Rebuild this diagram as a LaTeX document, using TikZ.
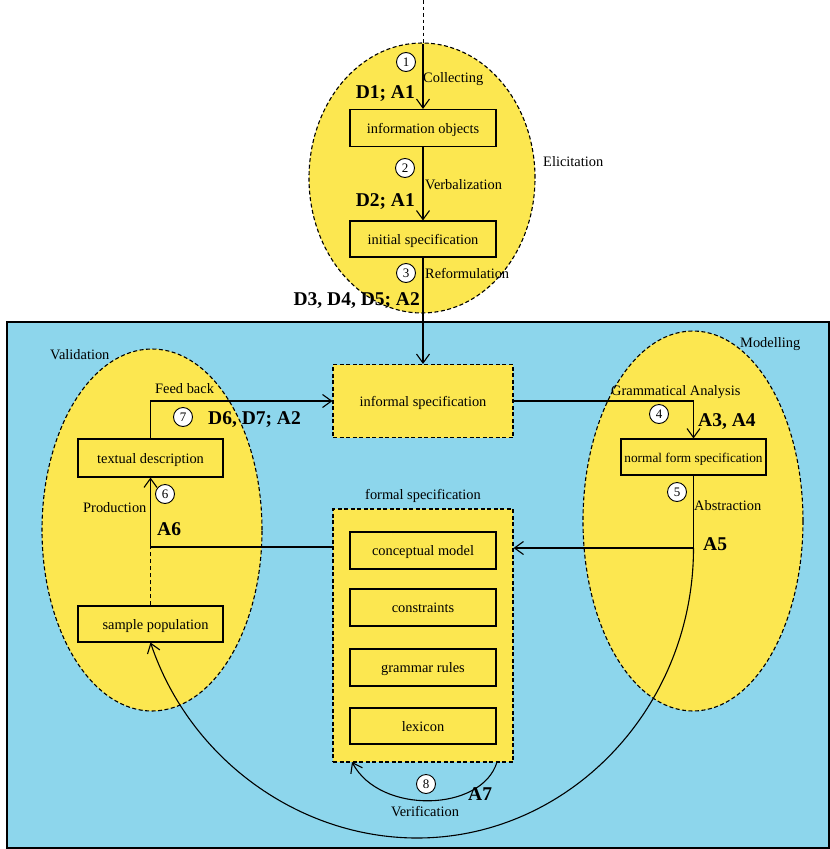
\documentclass[tikz,border=0pt]{standalone}
\usepackage{fontspec}
\setmainfont{Liberation Serif}
\usetikzlibrary{shapes.geometric,arrows.meta,calc}
\definecolor{bgblue}{RGB}{141,214,236}
\definecolor{ylw}{RGB}{252,231,80}
\begin{document}
\begin{tikzpicture}[x=1pt,y=-1pt,
  every node/.style={inner sep=0pt},
  txt/.style={font=\fontsize{14.4}{16}\selectfont,text height=10pt,text depth=0pt},
  bld/.style={font=\fontsize{19.5}{22}\selectfont\bfseries,text height=14pt,text depth=0pt},
  ell/.style={ellipse,draw,fill=ylw,dash pattern=on 4pt off 2.5pt,line width=1.1pt},
  box/.style={rectangle,draw,fill=ylw,line width=1.1pt,font=\fontsize{14.4}{16}\selectfont,text height=10pt,text depth=0pt},
  dbox/.style={rectangle,draw,fill=ylw,dash pattern=on 4pt off 2.5pt,line width=1.1pt,font=\fontsize{14.4}{16}\selectfont},
  num/.style={circle,draw,fill=white,minimum size=19pt,line width=0.9pt,font=\fontsize{13}{14}\selectfont},
  ln/.style={line width=1.1pt},
  arr/.style={line width=1.1pt,-{Straight Barb[length=9pt,width=13pt]}}]
\useasboundingbox (0,0) rectangle (830,849);
% background
\node[rectangle,draw,fill=bgblue,line width=1.5pt,minimum width=822pt,minimum height=526pt] (bg) at (418,585) {};
% ellipses
\node[ell,minimum width=226pt,minimum height=270pt] (elic) at (422,178) {};
\node[ell,minimum width=220pt,minimum height=362pt] (valid) at (152,530) {};
\node[ell,minimum width=220pt,minimum height=380pt] (model) at (693,521) {};
% boxes
\node[box,minimum width=146pt,minimum height=37pt] (io) at (423,128) {information objects};
\node[box,minimum width=146pt,minimum height=36pt] (is) at (423,239) {initial specification};
\node[dbox,minimum width=180pt,minimum height=73pt,text height=10pt,text depth=0pt] (inf) at (423,401) {informal specification};
\node[box,minimum width=145pt,minimum height=38pt] (td) at (150.5,458) {textual description};
\node[box,minimum width=145pt,minimum height=36pt] (sp) at (150.5,624) {\hspace*{10pt}sample population};
\node[box,minimum width=145pt,minimum height=36pt,font=\fontsize{13.3}{15}\selectfont] (nf) at (693.5,457) {normal form specification};
\node[dbox,minimum width=180pt,minimum height=253pt] (fs) at (423,635.5) {};
\node[box,minimum width=146pt,minimum height=37pt] (cm) at (423,550.5) {conceptual model};
\node[box,minimum width=146pt,minimum height=37pt] (co) at (423,607.5) {constraints};
\node[box,minimum width=146pt,minimum height=37pt] (gr) at (423,667.5) {grammar rules};
\node[box,minimum width=146pt,minimum height=36pt] (lx) at (423,726) {lexicon};
% coordinates
\coordinate (top) at (423,0);
\coordinate (et) at (423,44);
\coordinate (c6) at (150.5,547);
\coordinate (c5) at (693.5,548);
\coordinate (bot) at (417,838);
\coordinate (v1) at (497,762);
\coordinate (v2) at (352,762);
% connectors
\draw[line width=1pt,dash pattern=on 3.5pt off 3pt] (top) -- (et);
\draw[arr] (et) -- (io.north);
\draw[arr] (io.south) -- (is.north);
\draw[arr] (is.south) -- (inf.north);
\draw[arr] (td.north) |- (inf.west);
\draw[arr] (inf.east) -| (nf.north);
\draw[ln] (nf.south) -- (c5);
\draw[arr] (c5) -- (c5 -| fs.east);
\draw[ln] (c6 -| fs.west) -- (c6);
\draw[line width=1.2pt,dash pattern=on 4pt off 3pt] (sp.north) -- (c6);
\draw[arr] (c6) -- (td.south);
\draw[arr] (c5) .. controls (693.5,708) and (569,838) .. (bot) .. controls (300,838) and (190,760) .. (sp.south);
\draw[arr] (v1) .. controls (482,812) and (380,815) .. (v2);
% labels
\node[num] (n1) at (406,62) {1};
\node[txt,anchor=west] (l1) at (423,77) {Collecting};
\node[bld,anchor=east] (b1) at (415,91) {D1; A1};
\node[num] (n2) at (405,168) {2};
\node[txt,anchor=west] (l2) at (425,184) {Verbalization};
\node[bld,anchor=east] (b2) at (415,199) {D2; A1};
\node[num] (n3) at (406,273) {3};
\node[txt,anchor=west] (l3) at (425,273) {Reformulation};
\node[bld,anchor=east] (b3) at (420,298) {D3, D4, D5; A2};
\node[txt,anchor=west] (le) at (543,161) {Elicitation};
\node[txt,anchor=west] (lv) at (50,354) {Validation};
\node[txt,anchor=west] (lfb) at (155,388) {Feed back};
\node[num] (n7) at (183,417) {7};
\node[bld,anchor=west] (b7) at (208,417) {D6, D7; A2};
\node[num] (n6) at (165,494) {6};
\node[txt,anchor=west] (lp) at (83,507) {Production};
\node[bld,anchor=west] (b6) at (157,528) {A6};
\node[txt,anchor=west] (lg) at (611,390) {Grammatical Analysis};
\node[num] (n4) at (659,414) {4};
\node[bld,anchor=west] (b4) at (698,419) {A3, A4};
\node[txt,anchor=west] (lm) at (740,342) {Modelling};
\node[num] (n5) at (677,492) {5};
\node[txt,anchor=west] (la) at (694,505) {Abstraction};
\node[bld,anchor=west] (b5) at (703,543) {A5};
\node[txt] (lfs) at (423,494) {formal specification};
\node[num] (n8) at (426,784) {8};
\node[bld,anchor=west] (b8) at (468,793) {A7};
\node[txt] (lver) at (425,811) {Verification};
\end{tikzpicture}
\end{document}
